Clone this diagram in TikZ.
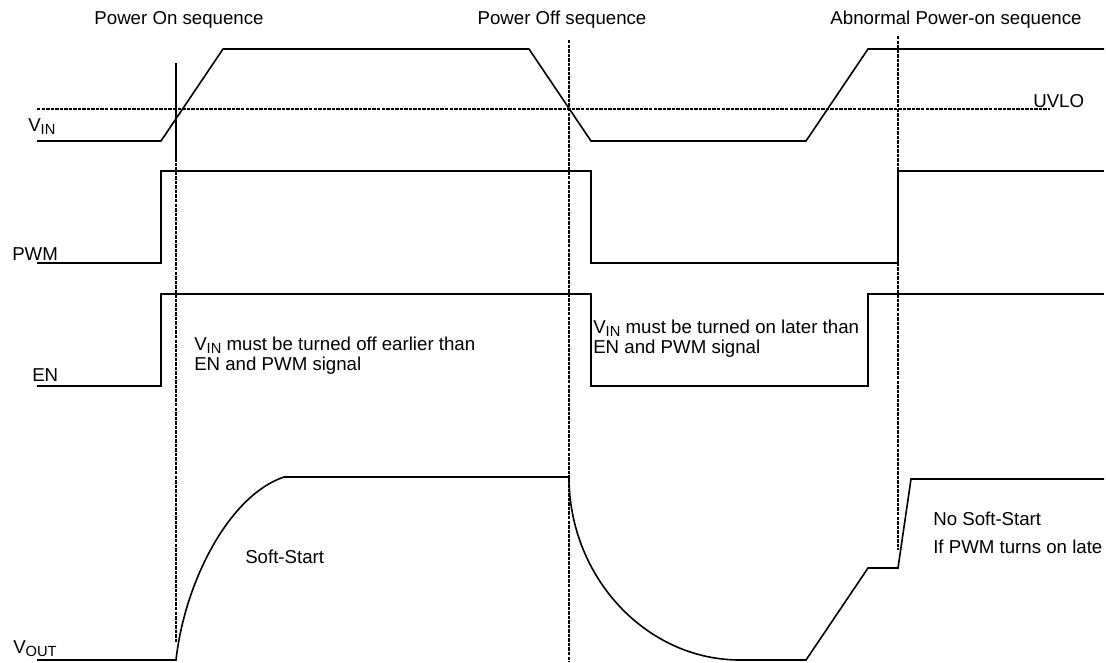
\documentclass[tikz,border=0pt]{standalone}
\usepackage{fontspec}
\setmainfont{Liberation Sans}
\usepackage{tikz}

\newcommand{\sigsub}[1]{\raisebox{-2.5pt}{\fontsize{11}{11}\selectfont #1}}

\begin{document}
\begin{tikzpicture}[x=0.75pt, y=-0.75pt]
  \tikzstyle{sig}=[draw=black, line width=1.2pt, line join=miter]
  \tikzstyle{guide}=[draw=black, line width=2pt, dash pattern=on 2.6pt off 0.8pt]
  \tikzstyle{txt}=[inner sep=0pt, anchor=base west, font=\fontsize{14}{15}\selectfont]
  \useasboundingbox (0,0) rectangle (1106,662);

  % titles
  \node[txt, anchor=base] (ton) at (179,24) {Power On sequence};
  \node[txt, anchor=base] (toff) at (562,24) {Power Off sequence};
  \node[txt, anchor=base] (tab) at (956,24) {Abnormal Power-on sequence};

  % signal names
  \node[txt] (lvin) at (28,131) {V\sigsub{IN}};
  \node[txt] (lpwm) at (12,260) {PWM};
  \node[txt] (len) at (32,381) {EN};
  \node[txt] (lvout) at (13,653) {V\sigsub{OUT}};
  \node[txt] (luvlo) at (1033,107) {UVLO};

  % notes
  \node[txt] (noff1) at (194,350) {V\sigsub{IN} must be turned off earlier than};
  \node[txt] (noff2) at ([yshift=-15pt]noff1.base west) {EN and PWM signal};
  \node[txt] (non1) at (593,333) {V\sigsub{IN} must be turned on later than};
  \node[txt] (non2) at ([yshift=-15pt]non1.base west) {EN and PWM signal};
  \node[txt] (nss) at (245,563) {Soft-Start};
  \node[txt] (nno1) at (933,525) {No Soft-Start};
  \node[txt] (nno2) at (933,553) {If PWM turns on late};

  % guides
  \draw[guide] (37,109) -- (1050,109);
  \draw[guide] (176,63) -- (176,643);
  \draw[black, line width=2pt] (176,63) -- (176,162);
  \draw[guide] (569,40) -- (569,662);
  \draw[guide] (898,36) -- (898,550);

  % waveforms
  \draw[sig] (37,141) -- (161,141) -- (223,49) -- (529,49) -- (591,141)
    -- (806,141) -- (868,49) -- (1104,49);
  \draw[sig] (37,263) -- (161,263) -- (161,171) -- (591,171) -- (591,263)
    -- (898,263) -- (898,171) -- (1104,171);
  \draw[sig] (37,386) -- (161,386) -- (161,294) -- (591,294) -- (591,386)
    -- (868,386) -- (868,294) -- (1104,294);
  \draw[sig] (37,660) -- (176,660) .. controls (185,580) and (230,495) .. (284,477)
    -- (569,477) .. controls (569,577) and (646,660) .. (740,660)
    -- (806,660) -- (868,568) -- (898,568) -- (911,479) -- (1104,479);

\end{tikzpicture}
\end{document}
